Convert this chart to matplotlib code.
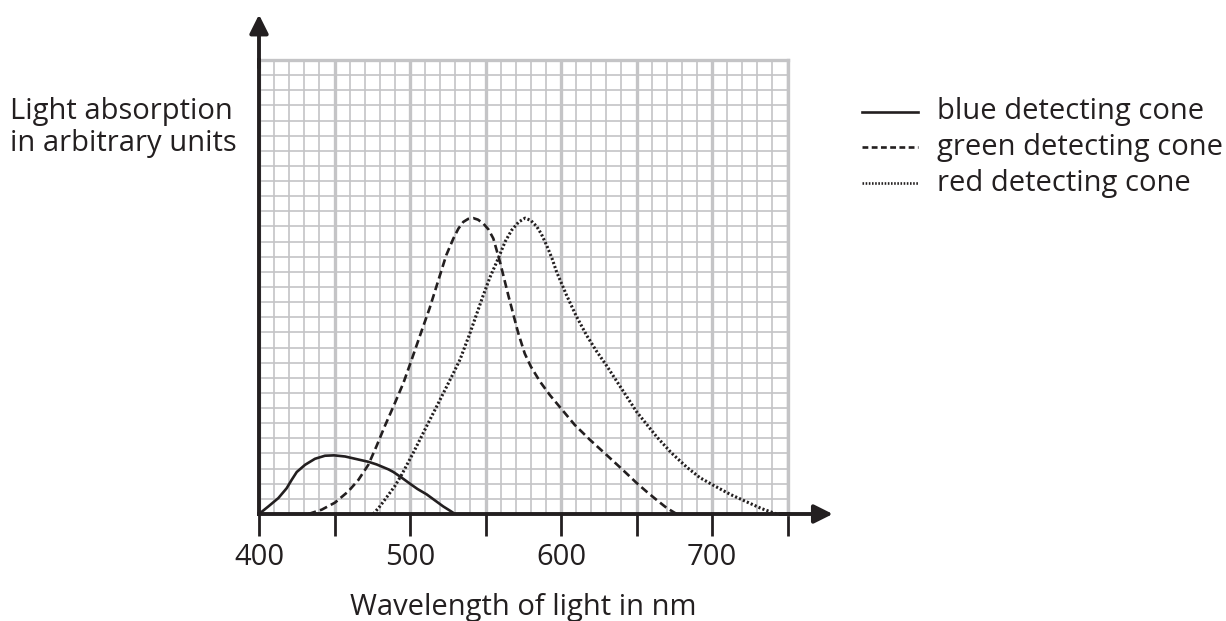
import matplotlib.pyplot as plt
from matplotlib.ticker import MultipleLocator

plt.rcParams['font.family'] = ['Open Sans', 'DejaVu Sans']

# absorption curves (y in big squares)
blue_nm = [400, 406.2, 412.8, 418.3, 421.6, 425, 430.5, 437.1, 443.7, 449.7, 457, 465.8, 472.4,
           477.9, 485.7, 489, 494.5, 500, 505, 511, 516.5, 522, 526, 529.8]
blue_abs = [0, 0.10, 0.21, 0.34, 0.45, 0.555, 0.65, 0.73, 0.77, 0.775, 0.76, 0.72, 0.69,
            0.655, 0.59, 0.555, 0.48, 0.40, 0.33, 0.26, 0.18, 0.10, 0.05, 0]

green_nm = [432.7, 441.5, 450.3, 459.2, 465.8, 472.4, 477.9, 483.5, 489, 495.6, 501.1, 507, 513,
            519.9, 524, 528.7, 532, 535.3, 538.5, 541.9, 545, 548.5, 552, 555.2, 559.6, 565.1,
            571.7, 576, 580, 586.1, 592.7, 599.8, 609, 619.2, 630.2, 640, 650.1, 657, 663.4, 670, 676.6]
green_abs = [0, 0.057, 0.15, 0.30, 0.45, 0.65, 0.9, 1.17, 1.42, 1.73, 2.04, 2.38, 2.72,
             3.16, 3.42, 3.64, 3.77, 3.86, 3.9, 3.91, 3.89, 3.84, 3.76, 3.64, 3.33, 2.89,
             2.39, 2.12, 1.95, 1.75, 1.57, 1.40, 1.18, 0.98, 0.78, 0.6, 0.41, 0.29, 0.185, 0.08, 0]

red_nm = [475.7, 480, 484.5, 490, 494.5, 502.2, 511, 519.9, 528.7, 533.1, 539.7, 548.5, 553, 558.5,
          563, 567.3, 572, 576.2, 580, 583.9, 587, 590.5, 594, 597.1, 603.7, 610, 617, 623.6, 630.2,
          640, 650.1, 663.4, 673, 683.2, 692, 700.9, 712, 723, 733, 742.8]
red_abs = [0, 0.1, 0.22, 0.37, 0.52, 0.81, 1.16, 1.51, 1.86, 2.04, 2.39, 2.89, 3.13, 3.38,
           3.6, 3.75, 3.86, 3.91, 3.88, 3.80, 3.7, 3.55, 3.38, 3.20, 2.89, 2.62, 2.36, 2.15, 1.96,
           1.66, 1.35, 1.02, 0.81, 0.62, 0.48, 0.38, 0.26, 0.16, 0.07, 0]

x_ticks = [400, 450, 500, 550, 600, 650, 700, 750]
x_labels = ['400', '', '500', '', '600', '', '700', '']
legend_labels = ['blue detecting cone', 'green detecting cone', 'red detecting cone']

W, H = 1226, 621
ink = '#231f20'
fig = plt.figure(figsize=(W / 100, H / 100), dpi=100)


def fx(px):
    return px / W


def fy(py):
    return 1 - py / H


ax = fig.add_axes([fx(259), fy(514), fx(787.5) - fx(259), fy(60) - fy(514)])
ax.set_xlim(400, 750)
ax.set_ylim(0, 6)

# graph paper
grid_col = '#c4c4c6'
ax.xaxis.set_major_locator(MultipleLocator(50))
ax.xaxis.set_minor_locator(MultipleLocator(10))
ax.yaxis.set_major_locator(MultipleLocator(1))
ax.yaxis.set_minor_locator(MultipleLocator(0.2))
ax.grid(which='major', color=grid_col, lw=2.4)
ax.grid(which='minor', color=grid_col, lw=1.2)
ax.set_axisbelow(True)
for s in ['top', 'right']:
    ax.spines[s].set_color(grid_col)
    ax.spines[s].set_linewidth(2.4)
for s in ['left', 'bottom']:
    ax.spines[s].set_color(ink)
    ax.spines[s].set_linewidth(2.8)
    ax.spines[s].set_zorder(5)

ax.set_xticks(x_ticks)
ax.set_xticklabels(x_labels)
ax.set_yticks([])
ax.tick_params(axis='x', which='major', direction='out', length=16, width=2, pad=5,
               labelsize=21, color=ink, labelcolor=ink)
ax.tick_params(axis='x', which='minor', length=0)
ax.tick_params(axis='y', which='both', length=0)

# axis arrows
arrow = dict(arrowstyle='-|>', color=ink, lw=2.8, mutation_scale=28, shrinkA=0, shrinkB=0)
ax.annotate('', xy=(400, 6.6), xytext=(400, 5.9), annotation_clip=False, arrowprops=arrow)
ax.annotate('', xy=(780, 0), xytext=(745, 0), annotation_clip=False, arrowprops=arrow)

ax.plot(blue_nm, blue_abs, color=ink, lw=1.9)
ax.plot(green_nm, green_abs, color=ink, lw=1.9, linestyle=(0, (3, 1.6)))
ax.plot(red_nm, red_abs, color=ink, lw=2.2, linestyle=(0, (0.7, 0.7)))

fig.text(fx(523), fy(607), 'Wavelength of light in nm', ha='center', va='center', fontsize=21, color=ink)
fig.text(fx(10), fy(111), 'Light absorption', ha='left', va='center', fontsize=21, color=ink)
fig.text(fx(10), fy(143), 'in arbitrary units', ha='left', va='center', fontsize=21, color=ink)

# legend drawn by hand
styles = ['-', (0, (2.2, 1.3)), (0, (0.6, 0.6))]
for i, (lab, ls) in enumerate(zip(legend_labels, styles)):
    y = 112 + i * 35.5
    fig.add_artist(plt.Line2D([fx(862), fx(918)], [fy(y), fy(y)], color=ink, lw=1.9, linestyle=ls))
    fig.text(fx(937), fy(y), lab, ha='left', va='center', fontsize=21, color=ink)

fig.savefig('out.png', dpi=100)
